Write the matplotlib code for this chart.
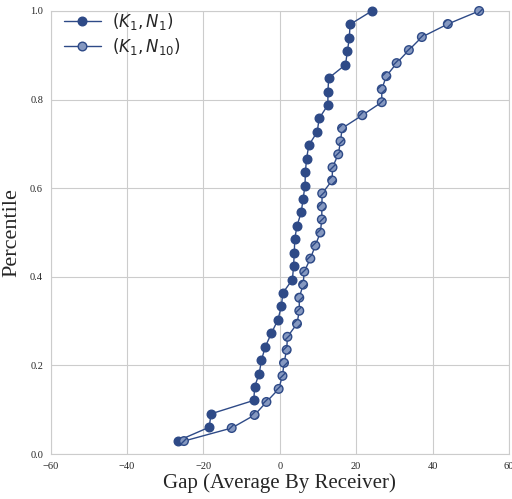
import numpy as np
import matplotlib
matplotlib.use('Agg')
import matplotlib.pyplot as plt
from matplotlib.lines import Line2D
import seaborn as sns

sns.set_style('whitegrid')
plt.rcParams['font.family'] = 'Liberation Serif'
plt.rcParams['mathtext.fontset'] = 'dejavusans'
plt.rcParams['hatch.linewidth'] = 1.0
plt.rcParams['hatch.color'] = '#2e4a87'

# sorted gaps per configuration
gap_k1_n1 = [-26.6, -18.5, -18.0, -6.8, -6.6, -5.4, -4.8, -3.8, -2.2, -0.5, 0.4,
             0.8, 3.3, 3.6, 3.8, 3.9, 4.5, 5.6, 6.1, 6.6, 6.7, 7.0, 7.6, 9.8,
             10.3, 12.6, 12.6, 12.8, 17.2, 17.7, 18.2, 18.4, 24.1]
gap_k1_n10 = [-25.1, -12.6, -6.6, -3.5, -0.3, 0.7, 1.1, 1.8, 2.0, 4.5, 5.1, 5.1,
              6.1, 6.4, 8.0, 9.3, 10.6, 11.0, 11.0, 11.1, 13.7, 13.8, 15.3, 15.9,
              16.3, 21.6, 26.7, 26.7, 27.9, 30.6, 33.8, 37.2, 44.0, 52.2]

pct_n1 = np.arange(1, len(gap_k1_n1) + 1) / len(gap_k1_n1)
pct_n10 = np.arange(1, len(gap_k1_n10) + 1) / len(gap_k1_n10)

dark = '#2e4a87'
light = '#8598c0'
ms = 6.2

fig = plt.figure(figsize=(5.12, 4.99), dpi=100)
ax = fig.add_axes([0.099, 0.090, 0.895, 0.888])

ax.plot(gap_k1_n1, pct_n1, '-o', color=dark, lw=1.0, ms=ms,
        mfc=dark, mec=dark, clip_on=False, zorder=3)
ax.plot(gap_k1_n10, pct_n10, '-', color=dark, lw=1.0, clip_on=False, zorder=3)
# hatched markers on top of the second line
ax.scatter(gap_k1_n10, pct_n10, s=ms ** 2, c=light, edgecolors=dark,
           linewidths=1.0, hatch='////', clip_on=False, zorder=4)

ax.set_xlim(-60, 60)
ax.set_ylim(0, 1.0)
ax.set_xticks(np.arange(-60, 61, 20))
ax.set_yticks(np.arange(0, 1.01, 0.2))
ax.set_xticklabels([str(v).replace('-', '\u2212') for v in range(-60, 61, 20)])
ax.tick_params(labelsize=7.5, pad=2)
ax.set_xlabel('Gap (Average By Receiver)', fontsize=15, labelpad=2)
ax.set_ylabel('Percentile', fontsize=16, labelpad=6)

handles = [
    Line2D([], [], color=dark, lw=1.0, marker='o', ms=ms, mfc=dark, mec=dark),
    Line2D([], [], color=dark, lw=1.0, marker='o', ms=ms, mfc=light, mec=dark),
]
ax.legend(handles, [r'$(K_1, N_1)$', r'$(K_1, N_{10})$'],
          loc='upper left', bbox_to_anchor=(0.018, 1.012), fontsize=12,
          frameon=False, borderaxespad=0.0, borderpad=0.3, labelspacing=0.25,
          handlelength=2.2, handletextpad=0.7)

fig.savefig('out.png', dpi=100)
